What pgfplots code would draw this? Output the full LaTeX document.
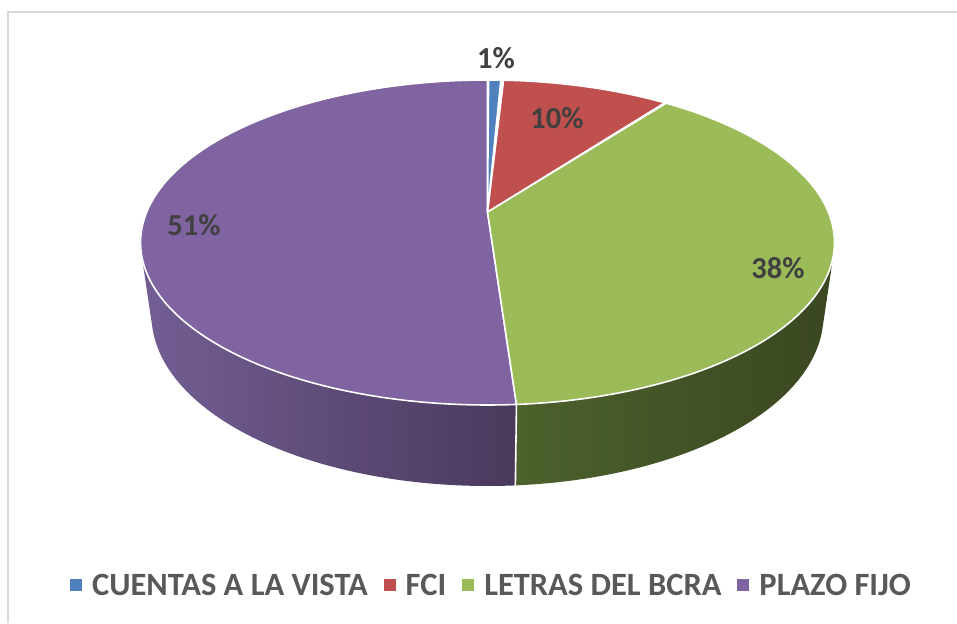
\documentclass[border=0pt]{standalone}
\usepackage{pgfplots}
\pgfplotsset{compat=1.18}
\usepackage{pgfplotstable}
\usepackage{fontspec}
\setmainfont{Carlito}
\definecolor{cBlue}{HTML}{4F81BD}
\definecolor{cRed}{HTML}{C0504D}
\definecolor{cGreen}{HTML}{9BBB59}
\definecolor{cPurple}{HTML}{8064A2}
\definecolor{sPurpleL}{HTML}{735E94}
\definecolor{sPurpleR}{HTML}{49395C}
\definecolor{sGreenL}{HTML}{4C612C}
\definecolor{sGreenR}{HTML}{3A4721}
\definecolor{lblText}{HTML}{404040}
\definecolor{legText}{HTML}{595959}
\definecolor{frameGray}{HTML}{D9D9D9}

\pgfplotstableread{
label value
CUENTAS 0.8
FCI 9.5
LETRAS 38.6
PLAZO 51.1
}\piedata

\begin{document}
\begin{tikzpicture}
\pgfplotstablegetelem{0}{value}\of\piedata \let\vA\pgfplotsretval
\pgfplotstablegetelem{1}{value}\of\piedata \let\vB\pgfplotsretval
\pgfplotstablegetelem{2}{value}\of\piedata \let\vC\pgfplotsretval
\pgfplotstablegetelem{3}{value}\of\piedata \let\vD\pgfplotsretval
\pgfmathsetmacro\aO{90}
\pgfmathsetmacro\aA{90-3.6*\vA}
\pgfmathsetmacro\aB{\aA-3.6*\vB}
\pgfmathsetmacro\aC{\aB-3.6*\vC}
\pgfmathsetmacro\aD{\aC-3.6*\vD}
\pgfmathsetmacro\sL{-166}
\pgfmathsetmacro\sR{-14}
\path[use as bounding box] (0,0) rectangle (957pt,623pt);
\begin{axis}[
  at={(0,0)}, anchor=origin,
  width=957pt, height=623pt, scale only axis,
  xmin=0, xmax=957, ymin=0, ymax=623,
  hide axis, clip=false,
  declare function={
    pw(\t,\r,\u)=1+0.1877*\r*sin(\t)+0.0315*\u;
    px(\t,\r,\u)=487.5+340.8*\r*cos(\t)/pw(\t,\r,\u);
    py(\t,\r,\u)=411+(156.8*\r*sin(\t)-74.4*\u)/pw(\t,\r,\u);
  },
  legend columns=4,
  legend image code/.code={\fill[#1, draw=none] (0pt,-6pt) rectangle (12pt,6pt);},
  legend style={at={(0.5136,0.061)}, anchor=center, draw=none, fill=none,
    font=\bfseries\fontsize{32.5}{38}\selectfont, text=legText,
    nodes={inner sep=2pt, text depth=0pt},
    /tikz/every odd column/.append style={column sep=8pt},
    /tikz/every even column/.append style={column sep=14pt}},
]
% frame
\draw[frameGray, line width=1.5pt] (axis cs:8,0) -- (axis cs:8,611) -- (axis cs:957,611);
% sides
\addplot[forget plot, draw=none, left color=sPurpleL, right color=sPurpleR,
  domain=0:2.01, samples=202]
  ({px(\sL+ifthenelse(x<1.005,min(x,1),max(0,2.01-x))*(\aC-\sL),1,(x>1.005))},
   {py(\sL+ifthenelse(x<1.005,min(x,1),max(0,2.01-x))*(\aC-\sL),1,(x>1.005))});
\addplot[forget plot, draw=none, left color=sGreenL, right color=sGreenR,
  domain=0:2.01, samples=202]
  ({px(\aC+ifthenelse(x<1.005,min(x,1),max(0,2.01-x))*(\sR-\aC),1,(x>1.005))},
   {py(\aC+ifthenelse(x<1.005,min(x,1),max(0,2.01-x))*(\sR-\aC),1,(x>1.005))});
\addplot[forget plot, white, line width=1.6pt, domain=0:1, samples=2]
  ({px(\aC,1,x)},{py(\aC,1,x)});
% top slices
\addplot[forget plot, fill=cPurple, draw=white, line width=1.6pt, line join=round,
  domain=-0.01:1.01, samples=103]
  ({px(\aD+max(0,min(x,1))*(\aC-\aD),(x>-0.005)*(x<1.005),0)},
   {py(\aD+max(0,min(x,1))*(\aC-\aD),(x>-0.005)*(x<1.005),0)});
\addplot[forget plot, fill=cGreen, draw=white, line width=1.6pt, line join=round,
  domain=-0.01:1.01, samples=103]
  ({px(\aC+max(0,min(x,1))*(\aB-\aC),(x>-0.005)*(x<1.005),0)},
   {py(\aC+max(0,min(x,1))*(\aB-\aC),(x>-0.005)*(x<1.005),0)});
\addplot[forget plot, fill=cRed, draw=white, line width=1.6pt, line join=round,
  domain=-0.01:1.01, samples=53]
  ({px(\aB+max(0,min(x,1))*(\aA-\aB),(x>-0.005)*(x<1.005),0)},
   {py(\aB+max(0,min(x,1))*(\aA-\aB),(x>-0.005)*(x<1.005),0)});
\addplot[forget plot, fill=cBlue, draw=white, line width=1.6pt, line join=round,
  domain=-0.01:1.01, samples=13]
  ({px(\aA+max(0,min(x,1))*(\aO-\aA),(x>-0.005)*(x<1.005),0)},
   {py(\aA+max(0,min(x,1))*(\aO-\aA),(x>-0.005)*(x<1.005),0)});
% labels
\begin{scope}[every node/.style={font=\bfseries\fontsize{30.5}{36}\selectfont, text=lblText}]
\node at (axis cs:496,565) {1\%};
\node at (axis cs:557,505) {10\%};
\node at (axis cs:778,355) {38\%};
\node at (axis cs:194,398) {51\%};
\end{scope}
% legend
\addlegendimage{fill=cBlue}\addlegendentry{CUENTAS A LA VISTA}
\addlegendimage{fill=cRed}\addlegendentry{FCI}
\addlegendimage{fill=cGreen}\addlegendentry{LETRAS DEL BCRA}
\addlegendimage{fill=cPurple}\addlegendentry{PLAZO FIJO}
\end{axis}
\end{tikzpicture}
\end{document}
